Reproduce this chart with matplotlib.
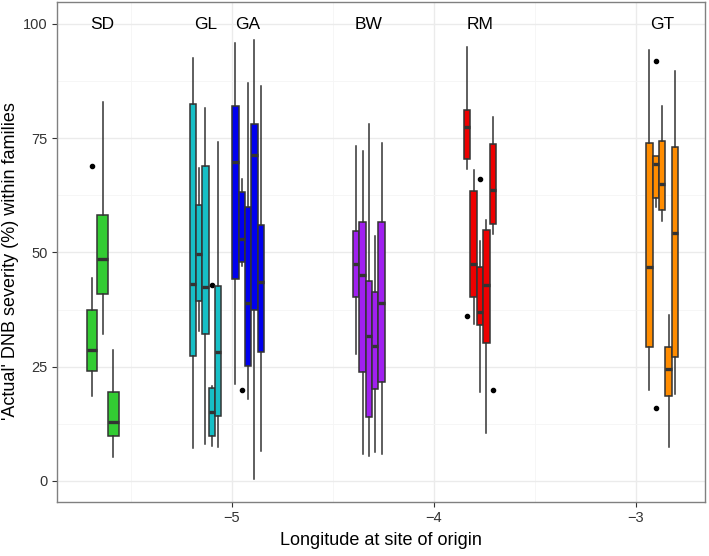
import matplotlib
matplotlib.use("Agg")
import matplotlib.pyplot as plt
from matplotlib.ticker import MultipleLocator

plt.rcParams['font.family'] = ['Liberation Sans', 'DejaVu Sans']

# sites (longitude of the middle box) and colours
sites = ["SD", "GL", "GA", "BW", "RM", "GT"]
site_lon = [-5.640, -5.131, -4.920, -4.322, -3.772, -2.870]
site_col = ["#33CC33", "#17BFC6", "#0000EE", "#A020F0", "#EE0000", "#FF8C00"]

# one entry per family box: site index, whisker low, q1, median, q3, whisker high, outliers
box_site = [0, 0, 0,
            1, 1, 1, 1, 1,
            2, 2, 2, 2, 2,
            3, 3, 3, 3, 3,
            4, 4, 4, 4, 4,
            5, 5, 5, 5, 5]
w_lo = [18.6, 32.1, 5.3,
        7.3, 32.8, 8.0, 7.7, 7.5,
        21.2, 47.1, 17.9, 0.4, 6.6,
        27.8, 5.9, 5.5, 6.3, 6.0,
        68.2, 34.4, 19.5, 10.6, 54.0,
        19.9, 59.9, 56.9, 7.5, 19.0]
q1 = [24.1, 40.9, 9.9,
      27.4, 39.4, 32.1, 9.8, 14.2,
      44.1, 47.9, 25.2, 37.4, 28.2,
      40.3, 23.8, 14.1, 20.1, 21.6,
      70.4, 40.3, 34.1, 30.3, 56.2,
      29.3, 61.9, 59.4, 18.6, 27.2]
med = [28.7, 48.5, 13.0,
       43.0, 49.7, 42.4, 15.2, 28.3,
       69.9, 53.0, 38.9, 71.3, 43.5,
       47.4, 45.1, 31.8, 29.5, 39.0,
       77.5, 47.4, 36.9, 42.9, 63.7,
       46.9, 69.4, 64.9, 24.5, 54.2]
q3 = [37.4, 58.1, 19.5,
      82.4, 60.4, 69.0, 20.3, 42.7,
      82.1, 63.3, 59.9, 78.1, 55.9,
      54.7, 56.7, 43.8, 41.3, 56.6,
      81.2, 63.5, 46.8, 54.9, 73.7,
      74.0, 71.0, 74.4, 29.4, 73.0]
w_hi = [44.4, 83.0, 28.7,
        92.5, 68.4, 81.5, 20.8, 74.2,
        95.8, 66.1, 87.0, 96.5, 86.5,
        73.3, 72.1, 78.1, 53.5, 73.9,
        95.0, 68.1, 52.6, 57.0, 79.7,
        94.3, 71.0, 82.1, 36.3, 89.7]
outliers = [[68.9], [], [],
            [], [], [], [42.9], [],
            [], [19.8], [], [], [],
            [], [], [], [], [],
            [36.1], [], [66.1], [], [19.8],
            [], [15.9, 91.9], [], [], []]

dodge = 0.158  # total width shared by the boxes of one site

fig = plt.figure(figsize=(7.09, 5.56), dpi=100)
ax = fig.add_axes([0.0804, 0.0971, 0.9140, 0.8993])

n_per_site = [box_site.count(s) for s in range(len(sites))]
seen = [0] * len(sites)
for i, s in enumerate(box_site):
    n = n_per_site[s]
    slot = dodge / n
    x = site_lon[s] + (seen[s] - (n - 1) / 2) * slot
    seen[s] += 1
    stats = [dict(whislo=w_lo[i], q1=q1[i], med=med[i], q3=q3[i],
                  whishi=w_hi[i], fliers=outliers[i])]
    ax.bxp(stats, positions=[x], widths=slot, patch_artist=True,
           showcaps=False, manage_ticks=False, zorder=3 + i * 0.01,
           boxprops=dict(facecolor=site_col[s], edgecolor="#333333", linewidth=1.1),
           whiskerprops=dict(color="#333333", linewidth=1.1),
           medianprops=dict(color="#333333", linewidth=2.4, solid_capstyle="butt"),
           flierprops=dict(marker="o", markersize=3, markerfacecolor="black",
                           markeredgecolor="black"))

for s, name in enumerate(sites):
    ax.text(site_lon[s], 99.8, name, ha="center", va="center", fontsize=12.5, color="black")

ax.set_xlim(-5.866, -2.658)
ax.set_ylim(-4.6, 104.8)
ax.xaxis.set_major_locator(MultipleLocator(1))
ax.xaxis.set_minor_locator(MultipleLocator(0.5))
ax.yaxis.set_major_locator(MultipleLocator(25))
ax.yaxis.set_minor_locator(MultipleLocator(12.5))
ax.grid(which="major", color="#EBEBEB", linewidth=1.0, zorder=0)
ax.grid(which="minor", color="#F5F5F5", linewidth=0.6, zorder=0)
ax.set_axisbelow(True)
ax.tick_params(which="minor", length=0)
ax.tick_params(which="major", length=3.5, width=0.8, color="#333333",
               labelsize=10.5, labelcolor="#333333", pad=3)
for sp in ax.spines.values():
    sp.set_color("#808080")
    sp.set_linewidth(1.0)

ax.set_xlabel("Longitude at site of origin", fontsize=13, labelpad=5)
ax.set_ylabel("'Actual' DNB severity (%) within families", fontsize=13)
ax.yaxis.set_label_coords(-0.058, 0.482)

fig.savefig("out.png", dpi=100)
